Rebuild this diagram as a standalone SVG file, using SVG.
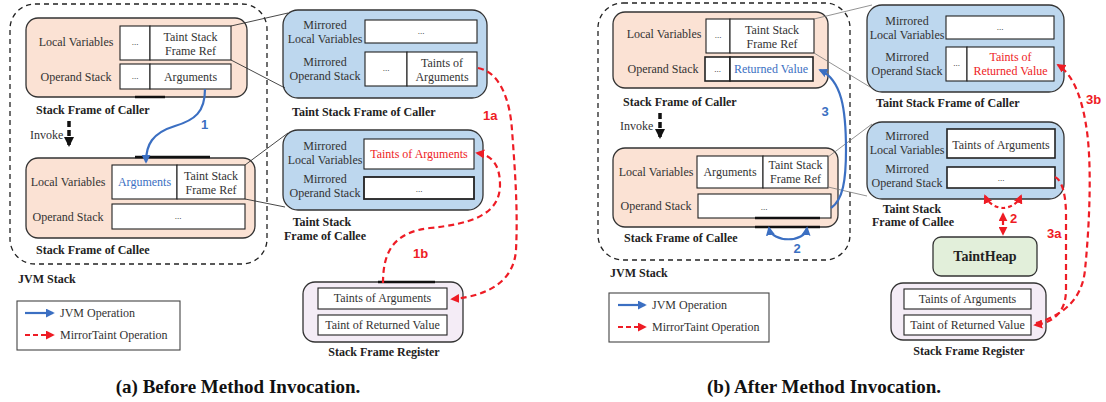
<svg xmlns="http://www.w3.org/2000/svg" width="1106" height="402" viewBox="0 0 1106 402">
<defs>
<marker id="ab" viewBox="0 0 10 10" refX="8" refY="5" markerWidth="9" markerHeight="9" markerUnits="userSpaceOnUse" orient="auto-start-reverse"><path d="M0,0 L10,5 L0,10 Z" fill="#3b6fc2"/></marker>
<marker id="ar" viewBox="0 0 10 10" refX="8" refY="5" markerWidth="9" markerHeight="9" markerUnits="userSpaceOnUse" orient="auto-start-reverse"><path d="M0,0 L10,5 L0,10 Z" fill="#ee1c25"/></marker>
<marker id="ak" viewBox="0 0 10 10" refX="8" refY="5" markerWidth="10" markerHeight="10" markerUnits="userSpaceOnUse" orient="auto"><path d="M0,0 L10,5 L0,10 Z" fill="#111"/></marker>
<style>
.t{font-family:"Liberation Serif","Times New Roman","DejaVu Serif",serif;font-size:12px;fill:#333}
.m{text-anchor:middle}
.b{font-family:"Liberation Serif","Times New Roman","DejaVu Serif",serif;font-size:12px;font-weight:bold;fill:#222}
.dots{font-family:"Liberation Serif","Times New Roman",serif;font-size:9px;fill:#222;text-anchor:middle}
.cap{font-family:"Liberation Serif","Times New Roman","DejaVu Serif",serif;font-size:19px;font-weight:bold;fill:#111;text-anchor:middle}
.jvm{fill:none;stroke:#222;stroke-width:1.3;stroke-dasharray:5,4}
.peach{fill:#fbe2d4;stroke:#333;stroke-width:1.3}
.blue{fill:#bdd7ee;stroke:#333;stroke-width:1.3}
.reg{fill:#f4ecf6;stroke:#333;stroke-width:1.3}
.heap{fill:#e2efda;stroke:#333;stroke-width:1.3}
.box{fill:#fff;stroke:#222;stroke-width:1.1}
.lnk{stroke:#333;stroke-width:0.9;fill:none}
.lnk2{stroke:#777;stroke-width:0.8;fill:none}
.bl{fill:none;stroke:#3b6fc2;stroke-width:2.2}
.rd{fill:none;stroke:#ee1c25;stroke-width:2.2;stroke-dasharray:6,4}
.nb{font-family:"Liberation Sans",sans-serif;font-size:13px;font-weight:bold;fill:#3b6fc2}
.nr{font-family:"Liberation Sans",sans-serif;font-size:13px;font-weight:bold;fill:#ee1c25}
.thk{stroke:#111;stroke-width:2.5}
.inv{stroke:#111;stroke-width:3.5;stroke-dasharray:6,3;fill:none}
</style>
</defs>

<!-- ================= (a) ================= -->
<g id="a-jvm-stack">
<rect class="jvm" x="10" y="4" width="257" height="260" rx="25"/>
<text class="b" x="18" y="283">JVM Stack</text>
</g>

<g id="a-caller-frame">
<rect class="peach" x="26" y="18" width="221" height="79" rx="12"/>
<text class="t m" x="76" y="46">Local Variables</text>
<text class="t m" x="76" y="81">Operand Stack</text>
<rect class="box" x="120" y="26" width="30" height="34"/>
<text class="dots" x="135" y="45">...</text>
<rect class="box" x="150" y="26" width="81" height="34"/>
<text class="t m" x="190.5" y="41">Taint Stack</text>
<text class="t m" x="190.5" y="55">Frame Ref</text>
<rect class="box" x="120" y="64" width="30" height="25"/>
<text class="dots" x="135" y="79">...</text>
<rect class="box" x="150" y="64" width="81" height="25"/>
<text class="t m" x="190.5" y="81">Arguments</text>
<line class="thk" x1="135" y1="97" x2="165" y2="97"/>
<text class="b" x="36" y="114">Stack Frame of Caller</text>
</g>

<g id="a-invoke">
<text class="t" x="30" y="139">Invoke</text>
<line class="inv" x1="69" y1="121" x2="69" y2="145" marker-end="url(#ak)"/>
</g>

<g id="a-callee-frame">
<rect class="peach" x="26" y="158" width="229" height="80" rx="12"/>
<line class="thk" x1="135" y1="157" x2="210" y2="157"/>
<text class="t m" x="68" y="186">Local Variables</text>
<text class="t m" x="68" y="221">Operand Stack</text>
<rect class="box" x="112" y="165" width="65" height="34"/>
<text class="t m" x="144.5" y="186" style="fill:#3b6fc2">Arguments</text>
<rect class="box" x="177" y="165" width="68" height="34"/>
<text class="t m" x="211" y="180">Taint Stack</text>
<text class="t m" x="211" y="194">Frame Ref</text>
<rect class="box" x="112" y="204" width="133" height="25"/>
<text class="dots" x="178" y="219">...</text>
<text class="b" x="36" y="254">Stack Frame of Callee</text>
</g>

<g id="a-taint-caller">
<rect class="blue" x="283" y="10" width="204" height="88" rx="15"/>
<text class="t m" x="325" y="29">Mirrored</text>
<text class="t m" x="325" y="43">Local Variables</text>
<rect class="box" x="365" y="20" width="112" height="23"/>
<text class="dots" x="421" y="34">...</text>
<text class="t m" x="325" y="66">Mirrored</text>
<text class="t m" x="325" y="80">Operand Stack</text>
<rect class="box" x="365" y="52" width="42" height="34"/>
<text class="dots" x="386" y="71">...</text>
<rect class="box" x="407" y="52" width="70" height="34"/>
<text class="t m" x="442" y="67">Taints of</text>
<text class="t m" x="442" y="81">Arguments</text>
<text class="b" x="292" y="116">Taint Stack Frame of Caller</text>
</g>

<g id="a-taint-callee">
<rect class="blue" x="283" y="130" width="200" height="80" rx="15"/>
<text class="t m" x="325" y="150">Mirrored</text>
<text class="t m" x="325" y="164">Local Variables</text>
<rect class="box" x="364" y="139" width="110" height="30"/>
<text class="t m" x="419" y="158" style="fill:#ee1c25">Taints of Arguments</text>
<text class="t m" x="325" y="183">Mirrored</text>
<text class="t m" x="325" y="197">Operand Stack</text>
<rect class="box" x="364" y="177" width="110" height="22" style="stroke-width:1.8"/>
<text class="dots" x="419" y="192">...</text>
<text class="b m" x="322" y="226">Taint Stack</text>
<text class="b m" x="325" y="240">Frame of Callee</text>
</g>

<g id="a-register">
<rect class="reg" x="303" y="282" width="160" height="60" rx="12"/>
<line class="thk" x1="378" y1="282" x2="435" y2="282"/>
<rect class="box" x="318" y="288" width="129" height="21"/>
<text class="t m" x="382.5" y="302">Taints of Arguments</text>
<rect class="box" x="318" y="315" width="129" height="20"/>
<text class="t m" x="382.5" y="329">Taint of Returned Value</text>
<text class="b m" x="384" y="356">Stack Frame Register</text>
</g>

<g id="a-legend">
<rect x="17" y="301" width="163" height="49" fill="#fff" stroke="#444" stroke-width="1.1"/>
<line class="bl" x1="25" y1="313" x2="53" y2="313" marker-end="url(#ab)"/>
<text class="t" x="60" y="317">JVM Operation</text>
<line class="rd" x1="25" y1="335" x2="53" y2="335" marker-end="url(#ar)" style="stroke-dasharray:5,3"/>
<text class="t" x="60" y="339">MirrorTaint Operation</text>
</g>

<g id="a-connectors">
<line class="lnk" x1="231" y1="26" x2="288" y2="13"/>
<line class="lnk" x1="231" y1="60" x2="285" y2="88"/>
<line class="lnk" x1="245" y1="165" x2="288" y2="133"/>
<line class="lnk" x1="245" y1="199" x2="285" y2="207"/>
<path class="bl" d="M205,89 C205,112 195,120 175,126 C152,133 146,145 146,162" marker-end="url(#ab)"/>
<text class="nb" x="201" y="129">1</text>
<path class="rd" d="M478,68 C500,72 510,100 512,130 C515,170 518,210 516,250 C514,280 490,296 452,299" marker-end="url(#ar)"/>
<text class="nr" x="483" y="120">1a</text>
<path class="rd" d="M383,283 C383,250 395,232 430,228 C470,224 500,215 500,185 C500,165 492,155 477,153" marker-end="url(#ar)"/>
<text class="nr" x="413" y="258">1b</text>
</g>

<text class="cap" x="238" y="393">(a) Before Method Invocation.</text>

<!-- ================= (b) ================= -->
<g id="b-jvm-stack">
<rect class="jvm" x="598" y="3" width="252" height="257" rx="25"/>
<text class="b" x="610" y="277">JVM Stack</text>
</g>

<g id="b-caller-frame">
<rect class="peach" x="613" y="12" width="215" height="76" rx="12"/>
<text class="t m" x="664" y="38">Local Variables</text>
<text class="t m" x="663" y="73">Operand Stack</text>
<rect class="box" x="706" y="19" width="24" height="34"/>
<text class="dots" x="718" y="38">...</text>
<rect class="box" x="730" y="19" width="84" height="34"/>
<text class="t m" x="772" y="34">Taint Stack</text>
<text class="t m" x="772" y="48">Frame Ref</text>
<rect class="box" x="705" y="57" width="25" height="24" style="stroke-width:1.6"/>
<text class="dots" x="717.5" y="72">...</text>
<rect class="box" x="730" y="57" width="83" height="24" style="stroke-width:1.6"/>
<text class="t m" x="771" y="73" style="fill:#3b6fc2">Returned Value</text>
<text class="b" x="623" y="106">Stack Frame of Caller</text>
</g>

<g id="b-invoke">
<text class="t" x="620" y="130">Invoke</text>
<line class="inv" x1="660" y1="113" x2="660" y2="137" marker-end="url(#ak)"/>
</g>

<g id="b-callee-frame">
<rect class="peach" x="613" y="148" width="225" height="79" rx="12"/>
<text class="t m" x="656" y="176">Local Variables</text>
<text class="t m" x="656" y="210">Operand Stack</text>
<rect class="box" x="697" y="156" width="66" height="32"/>
<text class="t m" x="730" y="176">Arguments</text>
<rect class="box" x="763" y="156" width="65" height="32"/>
<text class="t m" x="795.5" y="169">Taint Stack</text>
<text class="t m" x="795.5" y="183">Frame Ref</text>
<rect class="box" x="698" y="194" width="133" height="24"/>
<text class="dots" x="764" y="210">...</text>
<line class="thk" x1="755" y1="218" x2="820" y2="218"/>
<line class="thk" x1="755" y1="227" x2="820" y2="227"/>
<text class="b" x="624" y="242">Stack Frame of Callee</text>
</g>

<g id="b-taint-caller">
<rect class="blue" x="867" y="5" width="197" height="87" rx="15"/>
<text class="t m" x="907" y="25">Mirrored</text>
<text class="t m" x="907" y="39">Local Variables</text>
<rect class="box" x="946" y="16" width="108" height="23"/>
<text class="dots" x="1000" y="30">...</text>
<text class="t m" x="907" y="61">Mirrored</text>
<text class="t m" x="907" y="75">Operand Stack</text>
<rect class="box" x="946" y="47" width="21" height="34"/>
<text class="dots" x="956.5" y="66">...</text>
<rect class="box" x="967" y="47" width="87" height="34"/>
<text class="t m" x="1010.5" y="61" style="fill:#ee1c25">Taints of</text>
<text class="t m" x="1010.5" y="75" style="fill:#ee1c25">Returned Value</text>
<text class="b" x="876" y="107">Taint Stack Frame of Caller</text>
</g>

<g id="b-taint-callee">
<rect class="blue" x="867" y="122" width="197" height="77" rx="15"/>
<text class="t m" x="907" y="140">Mirrored</text>
<text class="t m" x="907" y="154">Local Variables</text>
<rect class="box" x="947" y="129" width="108" height="29" style="stroke-width:1.6"/>
<text class="t m" x="1001" y="149">Taints of Arguments</text>
<text class="t m" x="907" y="173">Mirrored</text>
<text class="t m" x="907" y="187">Operand Stack</text>
<rect class="box" x="947" y="167" width="108" height="21" style="stroke-width:1.6"/>
<text class="dots" x="1001" y="181">...</text>
<text class="b m" x="912" y="213">Taint Stack</text>
<text class="b m" x="913" y="226">Frame of Callee</text>
</g>

<g id="b-taintheap">
<rect class="heap" x="933" y="237" width="104" height="39" rx="8"/>
<text class="b m" x="985" y="261" style="font-size:14px">TaintHeap</text>
</g>

<g id="b-register">
<rect class="reg" x="891" y="283" width="155" height="57" rx="12"/>
<rect class="box" x="904" y="289" width="127" height="20"/>
<text class="t m" x="967.5" y="303">Taints of Arguments</text>
<rect class="box" x="904" y="315" width="127" height="20"/>
<text class="t m" x="967.5" y="329">Taint of Returned Value</text>
<text class="b m" x="969" y="355">Stack Frame Register</text>
</g>

<g id="b-legend">
<rect x="609" y="293" width="160" height="49" fill="#fff" stroke="#444" stroke-width="1.1"/>
<line class="bl" x1="618" y1="305" x2="645" y2="305" marker-end="url(#ab)"/>
<text class="t" x="652" y="309">JVM Operation</text>
<line class="rd" x1="618" y1="327" x2="645" y2="327" marker-end="url(#ar)" style="stroke-dasharray:5,3"/>
<text class="t" x="652" y="331">MirrorTaint Operation</text>
</g>

<g id="b-connectors">
<line class="lnk2" x1="814" y1="19" x2="872" y2="5"/>
<line class="lnk2" x1="814" y1="53" x2="870" y2="87"/>
<line class="lnk2" x1="828" y1="157" x2="872" y2="124"/>
<line class="lnk2" x1="828" y1="187" x2="867" y2="196"/>
<path class="bl" d="M769,228 C772,243 805,243 807,228" marker-start="url(#ab)" marker-end="url(#ab)"/>
<text class="nb" x="797" y="253" text-anchor="middle">2</text>
<path class="bl" d="M831,208 C843,200 846,180 846,150 C846,110 842,80 820,70" marker-end="url(#ab)"/>
<text class="nb" x="825" y="116" text-anchor="middle">3</text>
<path class="rd" d="M985,196 C989,205 998,208 1003,208 C1008,208 1017,205 1021,196" marker-start="url(#ar)" marker-end="url(#ar)" style="stroke-dasharray:4,3"/>
<line class="rd" x1="1003" y1="214" x2="1003" y2="234" marker-start="url(#ar)" marker-end="url(#ar)" style="stroke-dasharray:4,3"/>
<text class="nr" x="1010" y="223">2</text>
<path class="rd" d="M1055,177 C1062,180 1066,195 1066,215 L1066,290 C1066,315 1050,323 1035,325" marker-end="url(#ar)"/>
<text class="nr" x="1047" y="238">3a</text>
<path class="rd" d="M1036,323 C1062,316 1082,300 1085,270 C1090,220 1092,160 1086,125 C1082,100 1074,75 1058,65" marker-end="url(#ar)"/>
<text class="nr" x="1086" y="104">3b</text>
</g>

<text class="cap" x="824" y="393">(b) After Method Invocation.</text>
</svg>
